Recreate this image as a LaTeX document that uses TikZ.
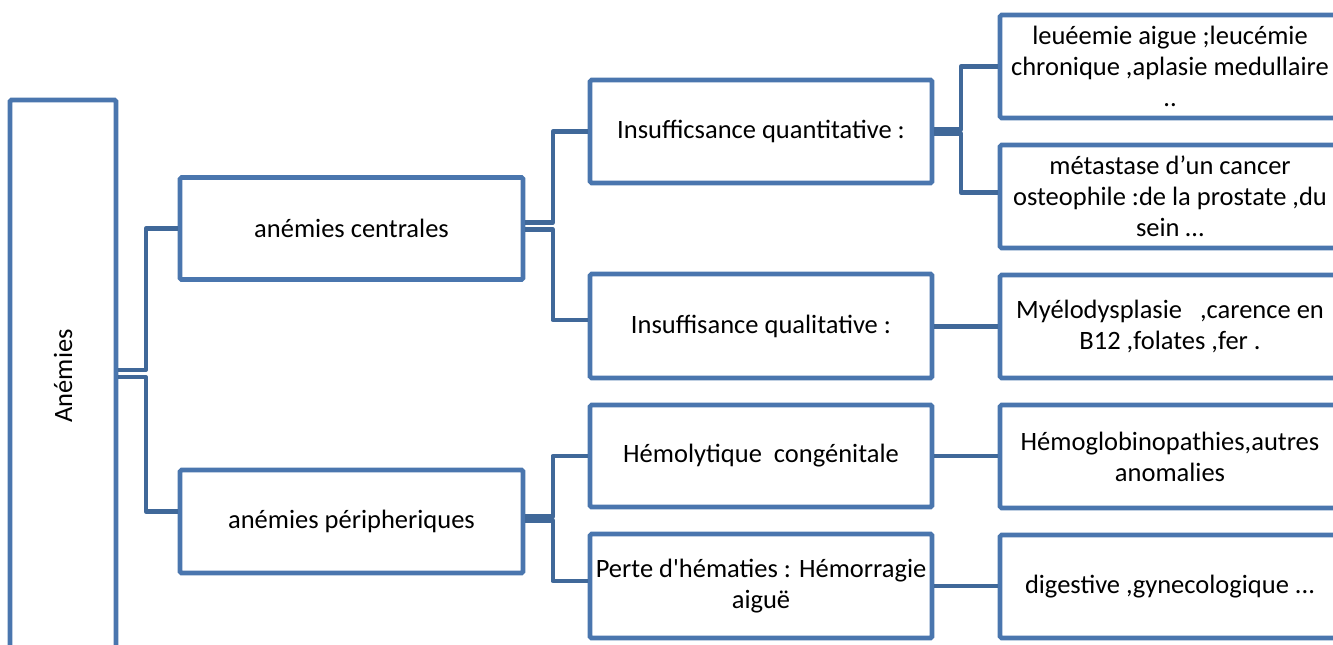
\documentclass[tikz,border=0pt]{standalone}
\usepackage{fontspec}
\setmainfont{Carlito}[Ligatures=TeXOff]
\usetikzlibrary{calc}
\definecolor{boxblue}{RGB}{74,118,174}
\definecolor{linkblue}{RGB}{64,104,153}
\begin{document}
\begin{tikzpicture}[x=1pt,y=-1pt,
  font=\fontsize{26.5}{31}\selectfont,
  box/.style={draw=boxblue, line width=4.6pt, fill=white, rounded corners=1.5pt,
    align=center, inner sep=0pt, text=black},
  link/.style={draw=linkblue, line width=4.4pt, line join=round}]
\useasboundingbox (0,0) rectangle (1333,645);
\clip (0,0) rectangle (1333,645);

% nodes
\node[box, minimum width=106, minimum height=552,
  label={[rotate=90, text=black]center:Anémies}] (anem) at (63,376) {};
\node[box, minimum width=343, minimum height=102] (cent) at (351.5,228.5) {anémies centrales};
\node[box, minimum width=343, minimum height=103] (peri) at (351.5,521.5) {anémies péripheriques};
\node[box, minimum width=342, minimum height=103] (quant) at (761,131.5) {Insufficsance quantitative :};
\node[box, minimum width=342, minimum height=104] (qual) at (761,326) {Insuffisance qualitative :};
\node[box, minimum width=342, minimum height=102] (hemo) at (761,456) {Hémolytique\ \ congénitale};
\node[box, minimum width=342, minimum height=104] (perte) at (761,586) {Perte d'hématies : Hémorragie\\aiguë};
\node[box, minimum width=340, minimum height=103] (r1) at (1170,66.5) {leuéemie aigue ;leucémie\\chronique ,aplasie medullaire\\..};
\node[box, minimum width=340, minimum height=103] (r2) at (1170,196.5) {métastase d’un cancer\\osteophile :de la prostate ,du\\sein …};
\node[box, minimum width=340, minimum height=103] (r3) at (1170,326.5) {Myélodysplasie\ \ \ ,carence en\\B12 ,folates ,fer .};
\node[box, minimum width=340, minimum height=103] (r4) at (1170,456.5) {Hémoglobinopathies,autres\\anomalies};
\node[box, minimum width=340, minimum height=103] (r5) at (1170,586.5) {digestive ,gynecologique ...};

% connectors
\draw[link] ($(anem.east)+(0,-6)$) -| ($(cent.west)+(-32,0)$) -- (cent.west);
\draw[link] ($(anem.east)+(0,1)$) -| ($(peri.west)+(-32,-10)$) -- ($(peri.west)+(0,-10)$);

\draw[link] ($(cent.east)+(0,-6)$) -| ($(quant.west)+(-35,0)$) -- (quant.west);
\draw[link] ($(cent.east)+(0,1)$) -| ($(qual.west)+(-35,-6)$) -- ($(qual.west)+(0,-6)$);

\draw[link] ($(quant.east)+(0,-2)$) -| ($(r1.west)+(-37,0)$) -- (r1.west);
\draw[link] ($(quant.east)+(0,2)$) -| ($(r2.west)+(-37,-4)$) -- ($(r2.west)+(0,-4)$);

\draw[link] (qual.east |- r3.west) -- (r3.west);

\draw[link] ($(peri.east)+(0,-5)$) -| ($(hemo.west)+(-35,0)$) -- (hemo.west);
\draw[link] ($(peri.east)+(0,-1)$) -| ($(perte.west)+(-35,-5)$) -- ($(perte.west)+(0,-5)$);

\draw[link] (hemo.east) -- (r4.west |- hemo.east);
\draw[link] (perte.east) -- (r5.west |- perte.east);
\end{tikzpicture}
\end{document}
